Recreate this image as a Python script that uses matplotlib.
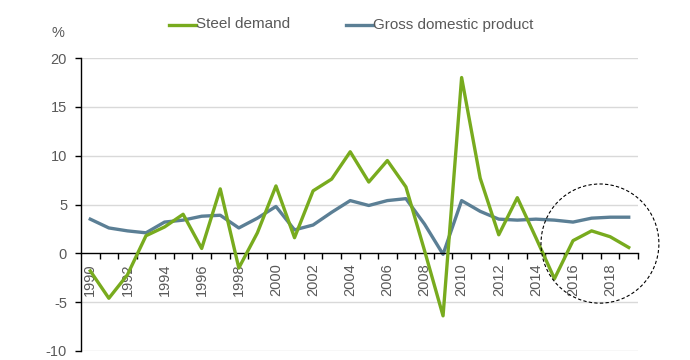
import matplotlib
matplotlib.use("Agg")
import matplotlib.pyplot as plt
from matplotlib.patches import Ellipse
from matplotlib.lines import Line2D
from matplotlib.ticker import FixedLocator

years = list(range(1990, 2020))
steel_demand = [-1.8, -4.6, -2.2, 1.8, 2.7, 4.0, 0.5, 6.6, -1.5, 2.1,
                6.9, 1.6, 6.4, 7.6, 10.4, 7.3, 9.5, 6.8, 0.3, -6.4,
                18.0, 7.7, 1.9, 5.7, 1.6, -2.6, 1.3, 2.3, 1.7, 0.6]
gdp = [3.5, 2.6, 2.3, 2.1, 3.2, 3.4, 3.8, 3.9, 2.6, 3.6,
       4.8, 2.4, 2.9, 4.2, 5.4, 4.9, 5.4, 5.6, 3.0, -0.1,
       5.4, 4.3, 3.5, 3.4, 3.5, 3.4, 3.2, 3.6, 3.7, 3.7]
series_labels = ["Steel demand", "Gross domestic product"]
y_ticks = [-10, -5, 0, 5, 10, 15, 20]

green = "#78AB1E"
blue = "#5B7F95"
text_col = "#595959"

plt.rcParams['font.family'] = ['Liberation Sans', 'DejaVu Sans']
plt.rcParams['axes.unicode_minus'] = False

W, H = 690, 360
fig = plt.figure(figsize=(6.9, 3.6), dpi=100)
ax = fig.add_axes([81/W, 1-351/H, (638-81)/W, (351-58)/H])

ax.set_xlim(years[0]-0.5, years[-1]+0.5)
ax.set_ylim(-10, 20)

for v in y_ticks:
    if v != 0:
        ax.axhline(v, color="#d9d9d9", lw=1.0, zorder=0)

l1, = ax.plot(years, steel_demand, color=green, lw=2.4, label=series_labels[0], zorder=3)
l2, = ax.plot(years, gdp, color=blue, lw=2.4, label=series_labels[1], zorder=2)

for s in ['top', 'right']:
    ax.spines[s].set_visible(False)
ax.spines['bottom'].set_position(('data', 0))
ax.spines['left'].set_color('black')
ax.spines['bottom'].set_color('black')
ax.spines['left'].set_linewidth(1.0)
ax.spines['bottom'].set_linewidth(1.0)

ax.yaxis.set_major_locator(FixedLocator(y_ticks))
ax.tick_params(axis='y', length=4, width=1, color='black', labelsize=10.5, labelcolor=text_col, pad=6)

label_years = [y for y in years if y % 2 == 0]
ax.set_xticks(label_years)
ax.set_xticklabels([str(y) for y in label_years], rotation=90, va='top')
ax.xaxis.set_minor_locator(FixedLocator([y + 0.5 for y in years]))
ax.tick_params(axis='x', which='major', length=0, labelsize=10.5, labelcolor=text_col, pad=7)
ax.tick_params(axis='x', which='minor', length=4, width=1, color='black', direction='out')

ell = Ellipse((2017.45, 1.0), width=6.35, height=12.2, fill=False, ls=(0, (3, 2)),
              lw=0.8, edgecolor='black', clip_on=False, zorder=4)
ax.add_patch(ell)

fig.text(51/W, 1-33/H, "%", fontsize=10.5, color=text_col, va='center', ha='left')

# legend (manual placement to match reference)
leg_y = 1 - 24.5/H
for (x0, x1, col, lab) in [(169, 196, green, series_labels[0]), (346, 373, blue, series_labels[1])]:
    fig.add_artist(Line2D([x0/W, x1/W], [leg_y, leg_y], color=col, lw=2.4, transform=fig.transFigure))
    fig.text(x1/W, leg_y, lab, fontsize=11, color=text_col, va='center', ha='left')

fig.savefig("out.png", dpi=100)
